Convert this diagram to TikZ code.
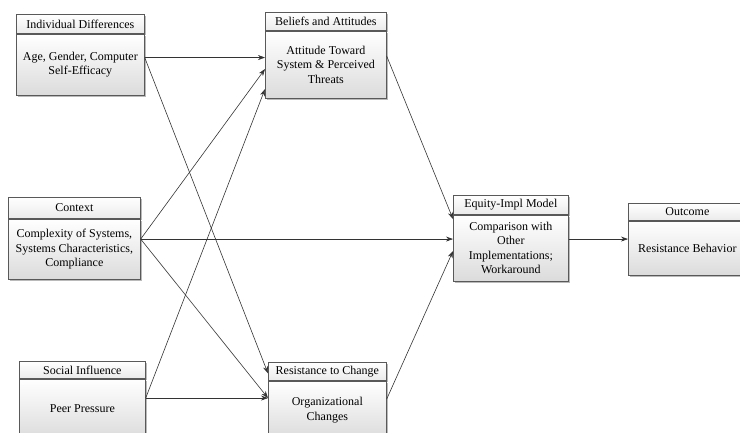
\documentclass[tikz,border=0pt]{standalone}
\usepackage{fontspec}
\setmainfont{Liberation Serif}
\usetikzlibrary{arrows.meta,shadows,calc}

\tikzset{
  boxbase/.style={draw=black!65, line width=0.7pt, inner sep=1pt, align=center,
    font=\fontsize{12}{14.4}\selectfont, drop shadow={shadow xshift=1.6pt, shadow yshift=-1.6pt, fill=black!45, opacity=0.6}},
  hdr/.style={boxbase, top color=white, bottom color=black!8, anchor=north west},
  bodybox/.style={boxbase, top color=white, bottom color=black!14, anchor=north},
  conn/.style={draw=black!80, line width=0.6pt, -{Stealth[length=7pt,width=5pt]}}
}

\begin{document}
\begin{tikzpicture}[x=1pt,y=-1pt]
\useasboundingbox (0,0) rectangle (740,432);
\clip (0,0) rectangle (740,432);

\node[hdr, minimum width=128pt, minimum height=19pt] (indH) at (16,14) {Individual Differences};
\node[bodybox, minimum width=128pt, minimum height=61pt] (ind) at (indH.south) {Age, Gender, Computer\\Self-Efficacy};

\node[hdr, minimum width=121pt, minimum height=18pt] (belH) at (265,12) {Beliefs and Attitudes};
\node[bodybox, minimum width=121pt, minimum height=67pt] (bel) at (belH.south) {Attitude Toward\\System \& Perceived\\Threats};

\node[hdr, minimum width=132pt, minimum height=21pt] (ctxH) at (8,197) {Context};
\node[bodybox, minimum width=132pt, minimum height=60pt] (ctx) at (ctxH.south) {Complexity of Systems,\\Systems Characteristics,\\Compliance};

\node[hdr, minimum width=126pt, minimum height=17pt] (socH) at (19,361) {Social Influence};
\node[bodybox, minimum width=126pt, minimum height=60pt] (soc) at (socH.south) {Peer Pressure};

\node[hdr, minimum width=118pt, minimum height=18pt] (resH) at (268,362) {Resistance to Change};
\node[bodybox, minimum width=118pt, minimum height=58pt] (res) at (resH.south) {Organizational\\Changes};

\node[hdr, minimum width=115pt, minimum height=19pt] (equH) at (453,195) {Equity-Impl Model};
\node[bodybox, minimum width=115pt, minimum height=66pt] (equ) at (equH.south) {Comparison with\\Other\\Implementations;\\Workaround};

\node[hdr, minimum width=118pt, minimum height=17pt] (outH) at (628,203) {Outcome};
\node[bodybox, minimum width=118pt, minimum height=54pt] (out) at (outH.south) {Resistance Behavior};

\coordinate (indO) at ([yshift=7pt]ind.east);
\coordinate (ctxO) at ([yshift=10pt]ctx.east);
\coordinate (socO) at ([yshift=11pt]soc.east);
\coordinate (belO) at ([yshift=8.5pt]bel.east);

\draw[conn] (indO) -- (indO -| bel.west);
\draw[conn] (indO) -- ([yshift=-2pt]resH.west);
\draw[conn] (ctxO) -- ([yshift=-4.5pt]bel.west);
\draw[conn] (socO) -- ([yshift=-24.5pt]bel.west);
\draw[conn] (ctxO) -- (ctxO -| equ.west);
\draw[conn] (ctxO) -- ([yshift=12pt]res.west);
\draw[conn] (socO) -- (socO -| res.west);
\draw[conn] (belO) -- ([yshift=29pt]equ.west);
\draw[conn] ([yshift=11pt]res.east) -- ([yshift=-3pt]equ.west);
\draw[conn] ([yshift=9pt]equ.east) -- ([yshift=9pt]equ.east -| out.west);

\end{tikzpicture}
\end{document}
